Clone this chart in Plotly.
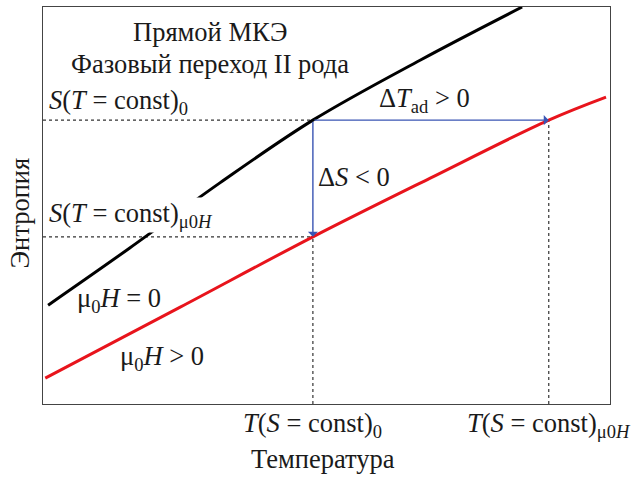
import plotly.graph_objects as go

# Entropy vs temperature curves (arbitrary units, 0..100 on both axes)
t_zero = [0.9, 15.3, 31.2, 47.6, 66.5, 84.5]
s_zero = [24.9, 39.3, 55.7, 71.5, 86.6, 100.0]
t_field = [0.4, 24.2, 47.6, 68.3, 89.2, 99.3]
s_field = [6.5, 24.4, 42.1, 56.9, 71.5, 77.3]

# Characteristic points of the magnetocaloric construction
T0 = 47.6
TH = 89.2
S0 = 71.5
SH = 42.1

FONT = "Liberation Serif, Times New Roman, serif"
FS = 26.5
BLUE = "#3a55b4"
DOT = "#333333"
INK = "#1a1a1a"

fig = go.Figure()

# dotted guide lines
guide = dict(color=DOT, width=1.2, dash="dot")
fig.add_trace(go.Scatter(x=[0, T0], y=[S0, S0], mode="lines", line=guide))
fig.add_trace(go.Scatter(x=[0, T0], y=[SH, SH], mode="lines", line=guide))
fig.add_trace(go.Scatter(x=[T0, T0], y=[0, SH], mode="lines", line=guide))
fig.add_trace(go.Scatter(x=[TH, TH], y=[0, S0], mode="lines", line=guide))

# entropy curves
fig.add_trace(go.Scatter(x=t_zero, y=s_zero, mode="lines",
                         line=dict(color="black", width=3, shape="spline")))
fig.add_trace(go.Scatter(x=t_field, y=s_field, mode="lines",
                         line=dict(color="#e8141c", width=3, shape="spline")))

ann = []
# blue arrows: isothermal ΔS and adiabatic ΔT
for (x1, y1) in [(TH, S0), (T0, SH)]:
    ann.append(dict(x=x1, y=y1, ax=T0, ay=S0, xref="x", yref="y",
                    axref="x", ayref="y", showarrow=True, text="",
                    arrowhead=1, arrowsize=1.2, arrowwidth=1.4,
                    arrowcolor=BLUE))


def label(x, y, text, xanchor="left", bg=None):
    d = dict(x=x, y=y, xref="x", yref="y", text=text, showarrow=False,
             xanchor=xanchor, yanchor="middle", borderpad=0,
             font=dict(family=FONT, size=FS, color=INK))
    if bg:
        d["bgcolor"] = bg
    ann.append(d)


label(29.5, 93.8, "Прямой МКЭ", "center")
label(29.5, 85.6, "Фазовый переход II рода", "center")
label(0.9, 76.1, "<i>S</i>(<i>T</i> = const)<sub>0</sub>")
label(59.0, 76.6, "Δ<i>T</i><sub>ad</sub> > 0")
label(48.3, 57.2, "Δ<i>S</i> < 0")
label(0.9, 47.6, "<i>S</i>(<i>T</i> = const)<sub>μ0<i>H</i></sub>", bg="white")
label(5.8, 26.2, "μ<sub>0</sub><i>H</i> = 0")
label(13.4, 11.6, "μ<sub>0</sub><i>H</i> > 0")

# temperature labels below the axis
for xv, txt in [(T0, "<i>T</i>(<i>S</i> = const)<sub>0</sub>"),
                (TH, "<i>T</i>(<i>S</i> = const)<sub>μ0<i>H</i></sub>")]:
    ann.append(dict(x=xv, y=0, xref="x", yref="paper", text=txt,
                    showarrow=False, xanchor="center", yanchor="middle",
                    yshift=-21,
                    font=dict(family=FONT, size=FS, color=INK)))

ann.append(dict(x=0.493, y=0, xref="paper", yref="paper", text="Температура",
                showarrow=False, xanchor="center", yanchor="middle",
                yshift=-55,
                font=dict(family=FONT, size=FS, color=INK)))
ann.append(dict(x=0, y=0.48, xref="paper", yref="paper", text="Энтропия",
                showarrow=False, xanchor="center", yanchor="middle",
                xshift=-23,
                textangle=-90, font=dict(family=FONT, size=FS, color=INK)))

fig.update_layout(
    width=637, height=480,
    margin=dict(l=43, r=27, t=7, b=76),
    paper_bgcolor="white", plot_bgcolor="white",
    showlegend=False,
    annotations=ann,
    xaxis=dict(range=[0, 100], showgrid=False, zeroline=False,
               showticklabels=False, ticks="", showline=True, mirror=True,
               linecolor="#444", linewidth=1.2),
    yaxis=dict(range=[0, 100], showgrid=False, zeroline=False,
               showticklabels=False, ticks="", showline=True, mirror=True,
               linecolor="#444", linewidth=1.2),
)

fig.write_html("out.html")
